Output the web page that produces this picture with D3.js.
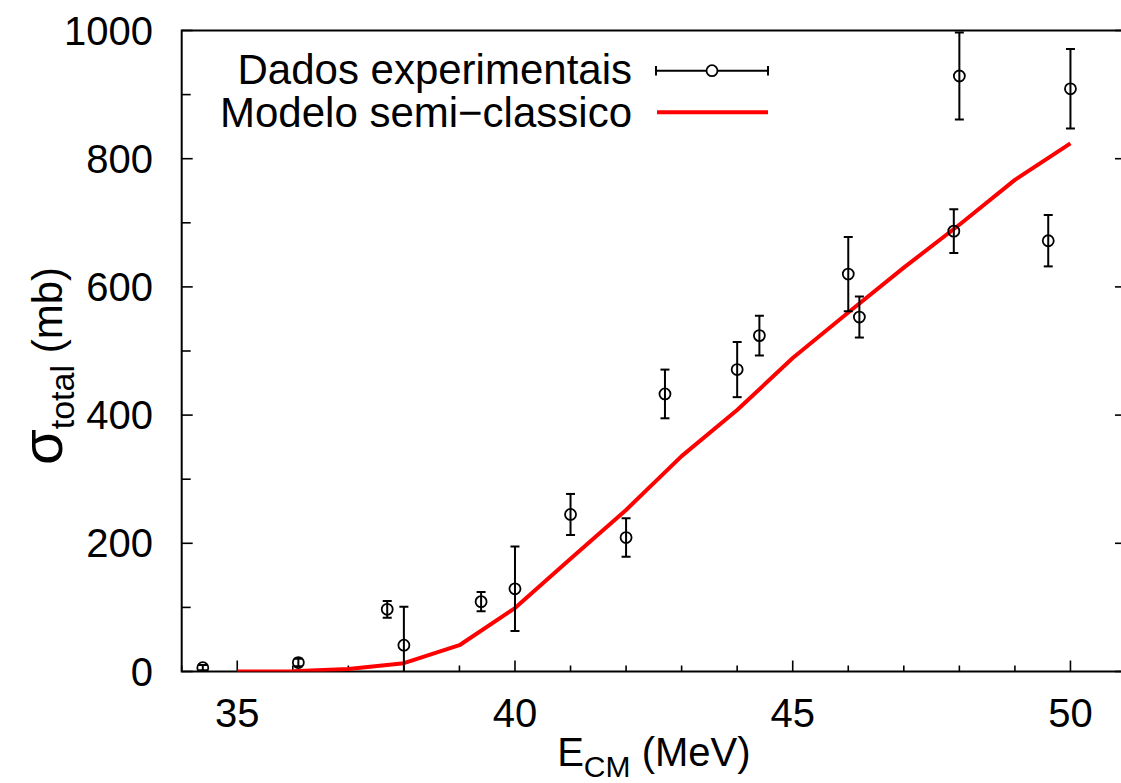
<!DOCTYPE html>
<html>
<head>
<meta charset="utf-8">
<script src="https://cdn.jsdelivr.net/npm/d3@7"></script>
<style>
  html, body { margin: 0; padding: 0; background: #fff; }
  svg { display: block; font-family: "Liberation Sans", Arial, Helvetica, sans-serif; }
</style>
</head>
<body>
<div id="chart"></div>
<script>
// experimental data: E_CM (MeV), sigma (mb), error (mb)
const expE   = [34.38, 36.10, 37.70, 38.00, 39.39, 40.00, 41.00, 42.00, 42.70, 44.00, 44.40, 46.00, 46.20, 47.90, 48.00, 49.60, 50.00];
const expSig = [6, 14, 97, 41, 109, 129, 245, 209, 433, 471, 524, 620, 553, 687, 929, 672, 909];
const expErr = [4, 6, 13, 60, 15, 66, 32, 30, 38, 43, 31, 58, 32, 34, 68, 40, 62];

// semi-classical model curve
const modelE   = [35, 36, 37, 38, 39, 40, 41, 42, 43, 44, 45, 46, 47, 48, 49, 50];
const modelSig = [0, 0.5, 4, 13, 41, 99, 176, 252, 336, 408, 489, 560, 630, 697, 767, 824];

const xMajor = [35, 40, 45, 50];
const xMinor = d3.range(34, 52, 1);
const yMajor = [0, 200, 400, 600, 800, 1000];
const yMinor = d3.range(0, 1001, 100);

const legendLabels = ['Dados experimentais', 'Modelo semi\u2212classico'];

const W = 1121, H = 783;
const plot = { left: 181.7, right: 1126, top: 30.5, bottom: 671.5 };

const svg = d3.select('#chart').append('svg')
  .attr('width', W).attr('height', H);

svg.append('rect').attr('width', W).attr('height', H).attr('fill', '#fff');

const x = d3.scaleLinear().domain([34, 51]).range([plot.left, plot.right]);
const y = d3.scaleLinear().domain([0, 1000]).range([plot.bottom, plot.top]);

svg.append('clipPath').attr('id', 'clip')
  .append('rect')
  .attr('x', plot.left).attr('y', plot.top)
  .attr('width', plot.right - plot.left).attr('height', plot.bottom - plot.top);

const FS = 40;

// frame
svg.append('rect')
  .attr('x', plot.left).attr('y', plot.top)
  .attr('width', plot.right - plot.left).attr('height', plot.bottom - plot.top)
  .attr('fill', 'none').attr('stroke', '#000').attr('stroke-width', 2);

// x ticks
const ticks = svg.append('g').attr('stroke', '#000').attr('stroke-width', 1.6);
xMinor.forEach(v => {
  const len = xMajor.includes(v) ? 11 : 6;
  ticks.append('line')
    .attr('x1', x(v)).attr('x2', x(v))
    .attr('y1', plot.bottom).attr('y2', plot.bottom - len);
});

// y ticks (left, and mirrored on the right)
yMinor.forEach(v => {
  const len = yMajor.includes(v) ? 11 : 9;
  ticks.append('line')
    .attr('x1', plot.left).attr('x2', plot.left + len)
    .attr('y1', y(v)).attr('y2', y(v));
  ticks.append('line')
    .attr('x1', plot.right).attr('x2', plot.right - (yMajor.includes(v) ? 11 : 5))
    .attr('y1', y(v)).attr('y2', y(v));
});

// tick labels
svg.append('g').selectAll('text').data(xMajor).join('text')
  .attr('x', d => x(d)).attr('y', 727)
  .attr('text-anchor', 'middle').attr('font-size', FS)
  .text(d => d);

svg.append('g').selectAll('text').data(yMajor).join('text')
  .attr('x', 153).attr('y', d => y(d) + 14)
  .attr('text-anchor', 'end').attr('font-size', FS)
  .text(d => d);

// axis titles
const xt = svg.append('text')
  .attr('x', (plot.left + plot.right) / 2).attr('y', 766)
  .attr('text-anchor', 'middle').attr('font-size', FS);
xt.append('tspan').text('E');
xt.append('tspan').attr('font-size', 30).attr('dy', 11).text('CM');
xt.append('tspan').attr('dy', -11).text(' (MeV)');

const yt = svg.append('text')
  .attr('transform', `translate(62,${(plot.top + plot.bottom) / 2 + 15}) rotate(-90)`)
  .attr('text-anchor', 'middle').attr('font-size', 42);
yt.append('tspan').attr('font-size', 58).text('\u03c3');
yt.append('tspan').attr('font-size', 34).attr('dy', 12).text('total');
yt.append('tspan').attr('dy', -12).text(' (mb)');

// model line
const g = svg.append('g').attr('clip-path', 'url(#clip)');
const line = d3.line().x(d => x(d[0])).y(d => y(d[1]));
g.append('path')
  .datum(d3.zip(modelE, modelSig))
  .attr('d', line)
  .attr('fill', 'none').attr('stroke', '#ff0000').attr('stroke-width', 4)
  .attr('stroke-linejoin', 'round');

// experimental points with error bars
const pts = g.append('g').attr('stroke', '#000').attr('fill', 'none');
expE.forEach((e, i) => {
  const cx = x(e), cy = y(expSig[i]);
  const y1 = y(expSig[i] + expErr[i]), y2 = y(expSig[i] - expErr[i]);
  pts.append('line').attr('x1', cx).attr('x2', cx).attr('y1', y1).attr('y2', y2).attr('stroke-width', 2);
  [y1, y2].forEach(yy => {
    pts.append('line').attr('x1', cx - 4.5).attr('x2', cx + 4.5).attr('y1', yy).attr('y2', yy).attr('stroke-width', 2);
  });
  pts.append('circle').attr('cx', cx).attr('cy', cy).attr('r', 5.5)
    .attr('fill', 'none').attr('stroke-width', 1.8);
});

// legend
const leg = svg.append('g');
leg.selectAll('text').data(legendLabels).join('text')
  .attr('x', 632).attr('y', (d, i) => 84 + i * 43)
  .attr('text-anchor', 'end').attr('font-size', 42)
  .text(d => d);

const ly = 70.7;
leg.append('line').attr('x1', 656).attr('x2', 768).attr('y1', ly).attr('y2', ly)
  .attr('stroke', '#000').attr('stroke-width', 2);
[656, 768].forEach(lx => {
  leg.append('line').attr('x1', lx).attr('x2', lx).attr('y1', ly - 4.7).attr('y2', ly + 4.7)
    .attr('stroke', '#000').attr('stroke-width', 2);
});
leg.append('circle').attr('cx', 712).attr('cy', ly).attr('r', 5.5)
  .attr('fill', '#fff').attr('stroke', '#000').attr('stroke-width', 1.8);
leg.append('line').attr('x1', 657).attr('x2', 768).attr('y1', 112.3).attr('y2', 112.3)
  .attr('stroke', '#ff0000').attr('stroke-width', 4);
</script>
</body>
</html>
